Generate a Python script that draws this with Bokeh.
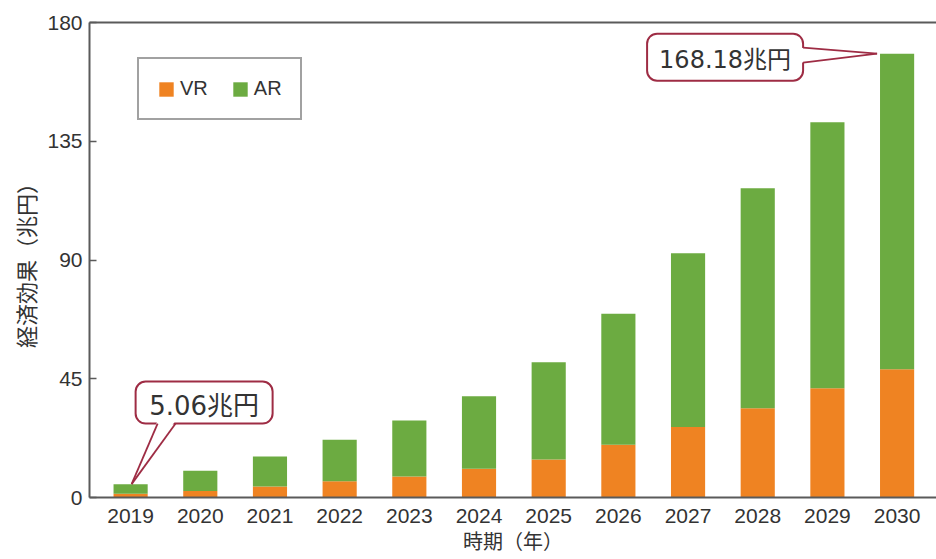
from bokeh.plotting import figure
from bokeh.models import (Range1d, LinearAxis, FixedTicker, Label, Legend,
                          LegendItem, ColumnDataSource, BoxAnnotation)
from bokeh.embed import file_html
from bokeh.resources import INLINE

# ---- data ----
years = [2019, 2020, 2021, 2022, 2023, 2024, 2025, 2026, 2027, 2028, 2029, 2030]
vr = [1.4, 2.5, 4.2, 6.2, 8.0, 10.9, 14.4, 20.0, 26.7, 33.8, 41.4, 48.6]
ar = [3.66, 7.6, 11.3, 15.7, 21.2, 27.5, 36.9, 49.6, 65.9, 83.4, 100.8, 119.58]
y_ticks = [0, 45, 90, 135, 180]
first_label = "5.06兆円"
last_label = "168.18兆円"

# ---- style ----
FONT = "Liberation Sans, Noto Sans CJK JP"
CFONT = "DejaVu Sans, Noto Sans CJK JP"
ORANGE = "#ef8322"
GREEN = "#6cab41"
AXIS = "#5a5a5a"
TXT = "#333333"
RED = "#9e2c44"

W, H = 936, 559
ML, MT, MB = 89, 22, 62
FW, FH = W - ML, H - MT - MB
XPX = 69.68                       # pixels per year
XS = 2018.41
XE = XS + FW / XPX
YS, YE = 0, 180
PX = 1.0 / XPX
PY = (YE - YS) / FH

tot = [a + b for a, b in zip(vr, ar)]
src = ColumnDataSource(dict(x=years, vr=vr, tot=tot, zero=[0] * len(years)))

p = figure(width=W, height=H, x_range=Range1d(XS, XE), y_range=Range1d(YS, YE),
           x_axis_type=None, y_axis_type=None, output_backend="svg",
           toolbar_location=None, min_border_left=ML, min_border_top=MT,
           min_border_right=0, min_border_bottom=MB)
p.outline_line_color = None
p.background_fill_color = "white"
p.border_fill_color = "white"

r_vr = p.vbar(x="x", bottom="zero", top="vr", width=0.49, source=src,
              fill_color=ORANGE, line_color=None)
r_ar = p.vbar(x="x", bottom="vr", top="tot", width=0.49, source=src,
              fill_color=GREEN, line_color=None)

# axes
xa = LinearAxis(ticker=FixedTicker(ticks=years), axis_label="時期（年）")
xa.major_tick_in = 0
xa.major_tick_out = 0
xa.minor_tick_in = 0
xa.minor_tick_out = 0
xa.major_label_standoff = 11
xa.axis_line_width = 2
xa.axis_line_color = AXIS
xa.major_label_text_font = FONT
xa.major_label_text_font_size = "21px"
xa.major_label_text_color = TXT
xa.axis_label_text_font = FONT
xa.axis_label_text_font_size = "20px"
xa.axis_label_text_font_style = "normal"
xa.axis_label_text_color = TXT
xa.axis_label_standoff = 5
p.add_layout(xa, "below")

ya = LinearAxis(ticker=FixedTicker(ticks=y_ticks), axis_label="経済効果（兆円）")
ya.major_tick_in = 7
ya.major_tick_out = 0
ya.minor_tick_in = 0
ya.minor_tick_out = 0
ya.major_tick_line_width = 1.5
ya.major_tick_line_color = AXIS
ya.major_label_standoff = 7
ya.axis_line_width = 2
ya.axis_line_color = AXIS
ya.major_label_text_font = FONT
ya.major_label_text_font_size = "21px"
ya.major_label_text_color = TXT
ya.axis_label_text_font = FONT
ya.axis_label_text_font_size = "22px"
ya.axis_label_text_font_style = "normal"
ya.axis_label_text_color = TXT
ya.axis_label_standoff = 4
p.add_layout(ya, "left")

ta = LinearAxis(ticker=FixedTicker(ticks=[]))
ta.major_tick_in = 0
ta.major_tick_out = 0
ta.minor_tick_in = 0
ta.minor_tick_out = 0
ta.major_label_text_font_size = "0px"
ta.axis_line_width = 2
ta.axis_line_color = AXIS
p.add_layout(ta, "above")

# legend
legend = Legend(items=[LegendItem(label="VR", renderers=[r_vr]),
                       LegendItem(label="AR", renderers=[r_ar])],
                orientation="horizontal", location=(48, 377))
legend.glyph_width = 18
legend.glyph_height = 18
legend.label_text_font = FONT
legend.label_text_font_size = "20px"
legend.label_text_color = TXT
legend.label_standoff = 5
legend.spacing = 23
legend.padding = 18
legend.margin = 0
legend.border_line_color = "#444444"
legend.border_line_width = 2
legend.background_fill_color = "white"
p.add_layout(legend)


def callout(tx, ty, text, size, box, center, base, tip_dx):
    """tx,ty: data tip; box=(l,r,t,b) px offsets from tip (up positive);
    center: text centre offset px; base: two px points on the box edge."""
    l, r, t, b = box
    p.add_layout(BoxAnnotation(left=tx + l * PX, right=tx + r * PX,
                               top=ty + t * PY, bottom=ty + b * PY,
                               fill_color="white", fill_alpha=1.0,
                               line_color=RED, line_alpha=1.0, line_width=2,
                               border_radius=10))
    p.add_layout(Label(x=tx, y=ty, x_offset=center[0], y_offset=center[1] - 3.5,
                       text=text, text_font=CFONT, text_font_size=f"{size}px",
                       text_color=TXT, text_align="center",
                       text_baseline="middle"))
    tipx = tx + tip_dx * PX
    (b1x, b1y), (b2x, b2y) = base
    # white wedge hides the box border where the pointer joins
    if b1x == b2x:   # pointer leaves a vertical edge
        d = -3 if tip_dx > b1x else 3
        wx = [tx + (b1x + d) * PX, tx + (b2x + d) * PX, tipx]
        wy = [ty + b1y * PY, ty + b2y * PY, ty]
    else:            # pointer leaves a horizontal edge
        d = 3 if b1y > 0 else -3
        wx = [tx + b1x * PX, tx + b2x * PX, tipx]
        wy = [ty + (b1y + d) * PY, ty + (b2y + d) * PY, ty]
    p.patch(wx, wy, fill_color="white", line_color=None, level="overlay")
    p.multi_line([[tx + b1x * PX, tipx], [tx + b2x * PX, tipx]],
                 [[ty + b1y * PY, ty], [ty + b2y * PY, ty]],
                 line_color=RED, line_width=1.8, level="overlay")


# last bar callout (box to the left)
callout(years[-1], tot[-1], last_label, 24,
        (-250, -94, 20, -27), (-172, -3.3), [(-94, 6), (-94, -9)], -20)
# first bar callout (box above right)
callout(years[0], tot[0], first_label, 26,
        (5, 142, 102.6, 60.6), (73.5, 81.6), [(27, 60.6), (45, 60.6)], 1)

open("out.html", "w").write(file_html(p, INLINE))
